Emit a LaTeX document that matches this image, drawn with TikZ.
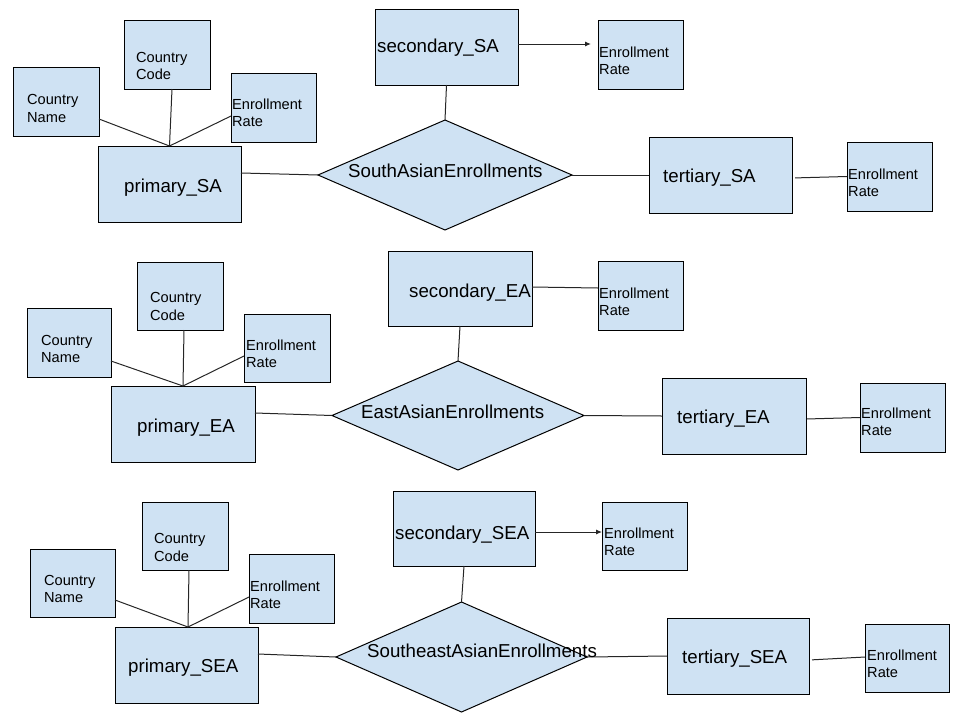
\documentclass[tikz,border=0pt]{standalone}
\usepackage{fontspec}
\setmainfont{Liberation Sans}
\usetikzlibrary{shapes.geometric,arrows.meta}
\definecolor{boxblue}{HTML}{CFE2F3}

% entity / attribute rectangle given by its corner coordinates
\newcommand\erbox[5]{%
  \node[erframe, minimum width={(#4-#2)*1pt}, minimum height={(#5-#3)*1pt}]
    (#1) at ({(#2+#4)/2},{(#3+#5)/2}) {};}

\tikzset{
  erframe/.style={rectangle, draw=black, fill=boxblue, line width=1pt,
    inner sep=0pt, outer sep=0pt},
  relshape/.style={diamond, draw=black, fill=boxblue, line width=1pt,
    inner sep=0pt, outer sep=0pt},
  bigtxt/.style={anchor=base west, inner sep=0pt,
    font=\fontsize{18.7}{22}\selectfont},
  smalltxt/.style={anchor=west, inner sep=0pt, align=left,
    font=\fontsize{14.6}{17.3}\selectfont},
  link/.style={line width=1pt, draw=black!85},
  arrowlink/.style={link, -{Latex[length=6pt,width=5pt]}}
}

\begin{document}
\begin{tikzpicture}[x=1pt, y=-1pt]
\useasboundingbox (0,0) rectangle (960,720);

% ---------- South Asia ----------
\erbox{cn1}{13}{67}{99}{136}
\erbox{cc1}{124}{20}{210}{89}
\erbox{er1}{231}{73}{316}{142}
\erbox{p1}{98}{146}{241}{222}
\erbox{s1}{375}{9}{518}{85}
\erbox{er2}{598}{20}{683}{89}
\erbox{t1}{649}{137}{792}{213}
\erbox{er3}{847}{142}{932}{211}
\node[relshape, minimum width=254pt, minimum height=110pt] (d1) at (445,175) {};

\draw[link] ([yshift=-17.5pt]cn1.east) -- (p1.north);
\draw[link] ([xshift=5pt]cc1.south) -- (p1.north);
\draw[link] ([yshift=-8.5pt]er1.west) -- (p1.north);
\draw[link] ([yshift=11pt]p1.east) -- (d1.west);
\draw[link] (s1.south) -- (d1.north);
\draw[arrowlink, shorten >=7pt] ([yshift=3pt]s1.east) -- ([yshift=10.5pt]er2.west);
\draw[link] (d1.east) -- (t1.west);
\draw[link, shorten <=3pt] ([yshift=-3pt]t1.east) -- (er3.west);

\node[smalltxt] (cn1t) at (27,108.5) {Country\\Name};
\node[smalltxt] (cc1t) at (136,66) {Country\\Code};
\node[smalltxt] (er1t) at (232,112.5) {Enrollment\\Rate};
\node[bigtxt] (p1t) at (124,192) {primary\_SA};
\node[bigtxt] (s1t) at (377,52) {secondary\_SA};
\node[bigtxt] (d1t) at (348,177.5) {SouthAsianEnrollments};
\node[bigtxt] (t1t) at (663,182) {tertiary\_SA};
\node[smalltxt] (er2t) at (599,60.5) {Enrollment\\Rate};
\node[smalltxt] (er3t) at (848,182.5) {Enrollment\\Rate};

% ---------- East Asia ----------
\erbox{cn2}{27}{308}{111}{377}
\erbox{cc2}{137}{262}{223}{330}
\erbox{er4}{244}{314}{330}{382}
\erbox{p2}{111}{386}{255}{462}
\erbox{s2}{388}{251}{532}{326}
\erbox{er5}{598}{261}{683}{330}
\erbox{t2}{662}{378}{806}{454}
\erbox{er6}{860}{383}{945}{452}
\node[relshape, minimum width=252pt, minimum height=109pt] (d2) at (458,415.5) {};

\draw[link] ([yshift=-18.5pt]cn2.east) -- (p2.north);
\draw[link] ([xshift=4pt]cc2.south) -- (p2.north);
\draw[link] ([yshift=-8pt]er4.west) -- (p2.north);
\draw[link] ([yshift=11pt]p2.east) -- (d2.west);
\draw[link] (s2.south) -- (d2.north);
\draw[link] ([yshift=1.5pt]s2.east) -- ([yshift=7.5pt]er5.west);
\draw[link] (d2.east) -- (t2.west);
\draw[link, shorten <=1pt] ([yshift=-3pt]t2.east) -- (er6.west);

\node[smalltxt] (cn2t) at (41,349) {Country\\Name};
\node[smalltxt] (cc2t) at (150,306.5) {Country\\Code};
\node[smalltxt] (er4t) at (246,354) {Enrollment\\Rate};
\node[bigtxt] (p2t) at (137,432) {primary\_EA};
\node[bigtxt] (s2t) at (409,297) {secondary\_EA};
\node[bigtxt] (d2t) at (361,418) {EastAsianEnrollments};
\node[bigtxt] (t2t) at (677,423) {tertiary\_EA};
\node[smalltxt] (er5t) at (599,301.5) {Enrollment\\Rate};
\node[smalltxt] (er6t) at (861,422) {Enrollment\\Rate};

% ---------- Southeast Asia ----------
\erbox{cn3}{30}{549}{115}{617}
\erbox{cc3}{142}{502}{228}{570}
\erbox{er7}{249}{554}{334}{623}
\erbox{p3}{115}{627}{258}{703}
\erbox{s3}{393}{491}{535}{566}
\erbox{er8}{602}{502}{687}{570}
\erbox{t3}{667}{618}{809}{694}
\erbox{er9}{865}{624}{949}{692}
\node[relshape, minimum width=251pt, minimum height=110pt] (d3) at (461.5,657) {};

\draw[link] ([yshift=-17pt]cn3.east) -- ([xshift=1.5pt]p3.north);
\draw[link] ([xshift=4pt]cc3.south) -- ([xshift=1.5pt]p3.north);
\draw[link] ([yshift=-8.5pt]er7.west) -- ([xshift=1.5pt]p3.north);
\draw[link] ([yshift=11pt]p3.east) -- (d3.west);
\draw[link] (s3.south) -- (d3.north);
\draw[arrowlink] ([yshift=-3.5pt]s3.east) -- ([yshift=4pt]er8.west);
\draw[link] (d3.east) -- (t3.west);
\draw[link, shorten <=3pt] ([yshift=-4pt]t3.east) -- ([yshift=1pt]er9.west);

\node[smalltxt] (cn3t) at (44,589) {Country\\Name};
\node[smalltxt] (cc3t) at (154,547.5) {Country\\Code};
\node[smalltxt] (er7t) at (250,594.5) {Enrollment\\Rate};
\node[bigtxt] (p3t) at (128,672) {primary\_SEA};
\node[bigtxt] (s3t) at (395,539.5) {secondary\_SEA};
\node[bigtxt] (d3t) at (367,657.7) {SoutheastAsianEnrollments};
\node[bigtxt] (t3t) at (682,663.3) {tertiary\_SEA};
\node[smalltxt] (er8t) at (604,542) {Enrollment\\Rate};
\node[smalltxt] (er9t) at (867,664) {Enrollment\\Rate};
\end{tikzpicture}
\end{document}
